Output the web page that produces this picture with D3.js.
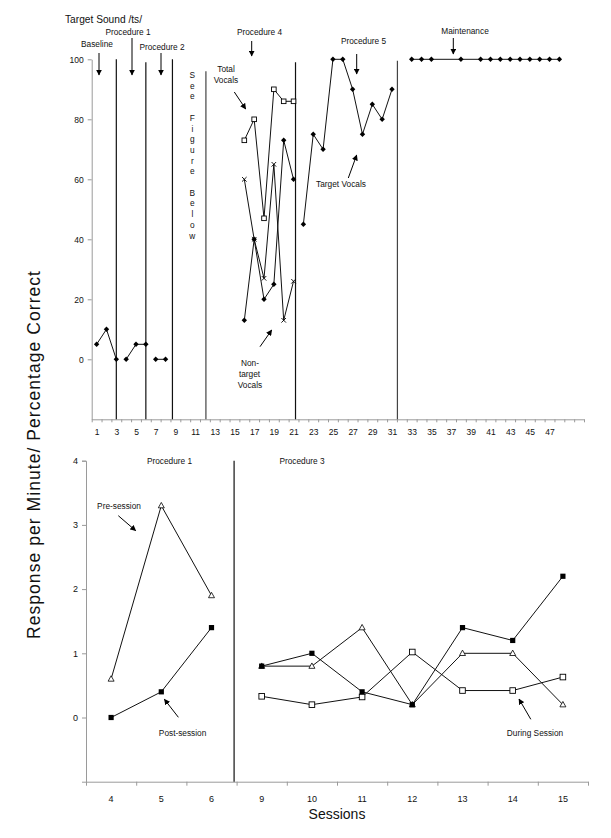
<!DOCTYPE html>
<html>
<head>
<meta charset="utf-8">
<script src="https://cdn.jsdelivr.net/npm/d3@7"></script>
<style>
  body { margin: 0; background: #fff; }
  svg { font-family: "Liberation Sans", Arial, sans-serif; }
  .axis path, .axis line { stroke: #9a9a9a; }
  .axis text { fill: #111; }
</style>
</head>
<body>
<div id="chart"></div>
<script>
// ---- top panel: target sound /ts/ ----
var baselineSessions = [1, 2, 3],
    baselineValues = [5, 10, 0];
var proc1Sessions = [4, 5, 6],
    proc1Values = [0, 5, 5];
var proc2Sessions = [7, 8],
    proc2Values = [0, 0];
var proc4Sessions = [16, 17, 18, 19, 20, 21],
    proc4Total = [73, 80, 47, 90, 86, 86],
    proc4Target = [13, 40, 20, 25, 73, 60],
    proc4NonTarget = [60, 40, 27, 65, 13, 26];
var proc5Sessions = [22, 23, 24, 25, 26, 27, 28, 29, 30, 31],
    proc5Target = [45, 75, 70, 100, 100, 90, 75, 85, 80, 90];
var maintSessions = [33, 34, 35, 38, 40, 41, 42, 43, 44, 45, 46, 47, 48],
    maintValues = [100, 100, 100, 100, 100, 100, 100, 100, 100, 100, 100, 100, 100];
var topPhaseLines = [3, 6, 8.7, 12.1, 21.2, 31.55],
    topPhaseTops = [100, 99, 100, 96, 99, 99.5];
var topYTicks = [0, 20, 40, 60, 80, 100];
var topXLabels = [1, 3, 5, 7, 9, 11, 13, 15, 17, 19, 21, 23, 25, 27, 29, 31, 33, 35, 37, 39, 41, 43, 45, 47];

// ---- bottom panel ----
var bottomSessions = ["4", "5", "6", "9", "10", "11", "12", "13", "14", "15"];
var preSession = [0.6, 3.3, 1.9, 0.8, 0.8, 1.4, 0.2, 1.0, 1.0, 0.2];
var postSession = [0, 0.4, 1.4, 0.8, 1.0, 0.4, 0.2, 1.4, 1.2, 2.2];
var duringSession = [null, null, null, 0.33, 0.2, 0.32, 1.02, 0.42, 0.42, 0.63];
var bottomYTicks = [0, 1, 2, 3, 4];
var bottomPhaseLine = 2.45;

var width = 611,
    height = 838;

var svg = d3.select("#chart")
    .append("svg")
    .attr("width", width)
    .attr("height", height);

svg.append("defs")
    .append("marker")
    .attr("id", "head")
    .attr("viewBox", "0 0 10 10")
    .attr("refX", 9)
    .attr("refY", 5)
    .attr("markerWidth", 6)
    .attr("markerHeight", 6)
    .attr("markerUnits", "userSpaceOnUse")
    .attr("orient", "auto")
    .append("path")
    .attr("d", "M0,0L10,5L0,10z")
    .attr("fill", "#000");

function arrow(x1, y1, x2, y2) {
    svg.append("line")
        .attr("x1", x1).attr("y1", y1)
        .attr("x2", x2).attr("y2", y2)
        .attr("stroke", "#000")
        .attr("stroke-width", 1)
        .attr("marker-end", "url(#head)");
}

function label(txt, x, y, size, anchor) {
    return svg.append("text")
        .attr("x", x)
        .attr("y", y)
        .attr("font-size", size)
        .attr("text-anchor", anchor || "middle")
        .attr("fill", "#111")
        .text(txt);
}

// ================= TOP PANEL =================
var xT = d3.scaleLinear().domain([0.5, 50.5]).range([91.7, 584]);
var yT = d3.scaleLinear().domain([-20, 100]).range([419.3, 59.3]);

// y axis
var yAxisT = svg.append("g")
    .attr("class", "axis")
    .attr("transform", "translate(91.7,0)")
    .call(d3.axisLeft(yT).tickValues(topYTicks).tickSize(4).tickPadding(4).tickSizeOuter(0));
yAxisT.selectAll("text").attr("font-size", 8.5).attr("font-family", "Liberation Sans, Arial");

// x axis: ticks at session boundaries, labels at odd sessions
var boundaries = d3.range(0.5, 51, 1);
svg.append("g")
    .attr("class", "axis")
    .attr("transform", "translate(0,419.3)")
    .call(d3.axisBottom(xT).tickValues(boundaries).tickSize(3).tickSizeOuter(0).tickFormat(""));
var xLabT = svg.append("g")
    .attr("class", "axis")
    .attr("transform", "translate(0,419.3)")
    .call(d3.axisBottom(xT).tickValues(topXLabels).tickSize(0).tickPadding(10));
xLabT.select(".domain").remove();
xLabT.selectAll("text").attr("font-size", 8.5).attr("font-family", "Liberation Sans, Arial");

// phase lines
svg.selectAll(".phaseT")
    .data(topPhaseLines)
    .enter()
    .append("line")
    .attr("class", "phaseT")
    .attr("x1", function (d) { return xT(d); })
    .attr("x2", function (d) { return xT(d); })
    .attr("y1", function (d, i) { return yT(topPhaseTops[i]); })
    .attr("y2", yT(-20))
    .attr("stroke", function (d, i) { return (i === 3 || i === 5) ? "#444" : "#111"; })
    .attr("stroke-width", 1.2);

var lineT = d3.line()
    .x(function (d) { return xT(d[0]); })
    .y(function (d) { return yT(d[1]); });

function topSeries(sessions, values, marker) {
    var pts = sessions.map(function (s, i) { return [s, values[i]]; });
    svg.append("path")
        .datum(pts)
        .attr("d", lineT)
        .attr("fill", "none")
        .attr("stroke", "#111")
        .attr("stroke-width", 1);
    var g = svg.append("g");
    pts.forEach(function (p) {
        var cx = xT(p[0]), cy = yT(p[1]);
        if (marker === "diamond") {
            g.append("path")
                .attr("d", "M" + cx + "," + (cy - 2.7) + "L" + (cx + 2.7) + "," + cy + "L" + cx + "," + (cy + 2.7) + "L" + (cx - 2.7) + "," + cy + "Z")
                .attr("fill", "#000");
        } else if (marker === "square") {
            g.append("rect")
                .attr("x", cx - 2.3).attr("y", cy - 2.3)
                .attr("width", 4.6).attr("height", 4.6)
                .attr("fill", "#fff").attr("stroke", "#000").attr("stroke-width", 0.9);
        } else if (marker === "x") {
            g.append("path")
                .attr("d", "M" + (cx - 2.3) + "," + (cy - 2.3) + "L" + (cx + 2.3) + "," + (cy + 2.3) +
                    "M" + (cx + 2.3) + "," + (cy - 2.3) + "L" + (cx - 2.3) + "," + (cy + 2.3))
                .attr("stroke", "#000").attr("stroke-width", 0.9);
        }
    });
}

topSeries(baselineSessions, baselineValues, "diamond");
topSeries(proc1Sessions, proc1Values, "diamond");
topSeries(proc2Sessions, proc2Values, "diamond");
topSeries(proc4Sessions, proc4NonTarget, "x");
topSeries(proc4Sessions, proc4Target, "diamond");
topSeries(proc4Sessions, proc4Total, "square");
topSeries(proc5Sessions, proc5Target, "diamond");
topSeries(maintSessions, maintValues, "diamond");

// top annotations
label("Target Sound /ts/", 65, 23, 10.2, "start");
label("Baseline", 97, 47, 8.3);
arrow(99, 53, 99, 75);
label("Procedure 1", 128, 35, 8.3);
arrow(132, 38, 132, 75);
label("Procedure 2", 162, 50, 8.3);
arrow(161, 53, 161, 75);

var seeLetters = ["S", "e", "e", "", "F", "i", "g", "u", "r", "e", "", "B", "e", "l", "o", "w"];
svg.append("g")
    .selectAll("text")
    .data(seeLetters)
    .enter()
    .append("text")
    .attr("x", 192.3)
    .attr("y", function (d, i) { return 78 + i * 10.7; })
    .attr("text-anchor", "middle")
    .attr("font-size", 8.3)
    .attr("fill", "#111")
    .text(function (d) { return d; });

label("Procedure 4", 259.5, 35, 8.3);
arrow(251.7, 41, 251.7, 56);
label("Total", 226, 72, 8.3);
label("Vocals", 226, 83, 8.3);
arrow(234.3, 92, 245.7, 109);

label("Procedure 5", 363.5, 44, 8.3);
arrow(356.7, 54, 356.7, 74);
label("Target Vocals", 341, 187, 8.3);
arrow(348.3, 178, 356.7, 155);

label("Non-", 250, 366, 8.3);
label("target", 249.5, 377, 8.3);
label("Vocals", 250, 388, 8.3);
arrow(260, 346.7, 271.7, 330);

label("Maintenance", 465, 34, 8.3);
arrow(453.3, 38, 453.3, 54);

// ================= BOTTOM PANEL =================
var xBi = d3.scaleLinear().domain([-0.5, 9.5]).range([86, 588]);
var xB = d3.scaleBand().domain(bottomSessions).range([86, 588]);
var yB = d3.scaleLinear().domain([-1, 4]).range([781.7, 460.7]);

var yAxisB = svg.append("g")
    .attr("class", "axis")
    .attr("transform", "translate(86,0)")
    .call(d3.axisLeft(yB).tickValues(bottomYTicks).tickFormat(d3.format("d")).tickSize(4).tickPadding(4).tickSizeOuter(4));
yAxisB.selectAll("text").attr("font-size", 9).attr("font-family", "Liberation Sans, Arial");

svg.append("g")
    .attr("class", "axis")
    .attr("transform", "translate(0,781.7)")
    .call(d3.axisBottom(xBi).tickValues(d3.range(-0.5, 10, 1)).tickSize(4).tickSizeOuter(0).tickFormat(""));
var xLabB = svg.append("g")
    .attr("class", "axis")
    .attr("transform", "translate(0,781.7)")
    .call(d3.axisBottom(xB).tickSize(0).tickPadding(14));
xLabB.select(".domain").remove();
xLabB.selectAll("text").attr("font-size", 9).attr("font-family", "Liberation Sans, Arial");

svg.append("line")
    .attr("x1", xBi(bottomPhaseLine)).attr("x2", xBi(bottomPhaseLine))
    .attr("y1", yB(4)).attr("y2", yB(-1))
    .attr("stroke", "#111")
    .attr("stroke-width", 1.2);

var lineB = d3.line()
    .defined(function (d) { return d[1] !== null; })
    .x(function (d) { return xBi(d[0]); })
    .y(function (d) { return yB(d[1]); });

function bottomSeries(values, marker) {
    var segs = [[0, 3], [3, 10]];
    segs.forEach(function (s) {
        var pts = [];
        for (var i = s[0]; i < s[1]; i++) pts.push([i, values[i]]);
        svg.append("path")
            .datum(pts)
            .attr("d", lineB)
            .attr("fill", "none")
            .attr("stroke", "#111")
            .attr("stroke-width", 1);
    });
    values.forEach(function (v, i) {
        if (v === null) return;
        var cx = xBi(i), cy = yB(v);
        if (marker === "triangle") {
            svg.append("path")
                .attr("d", "M" + cx + "," + (cy - 3.2) + "L" + (cx + 3) + "," + (cy + 2.2) + "L" + (cx - 3) + "," + (cy + 2.2) + "Z")
                .attr("fill", "#fff").attr("stroke", "#000").attr("stroke-width", 0.8);
        } else if (marker === "filled") {
            svg.append("rect")
                .attr("x", cx - 2.6).attr("y", cy - 2.6)
                .attr("width", 5.2).attr("height", 5.2)
                .attr("fill", "#000");
        } else {
            svg.append("rect")
                .attr("x", cx - 2.8).attr("y", cy - 2.8)
                .attr("width", 5.6).attr("height", 5.6)
                .attr("fill", "#fff").attr("stroke", "#000").attr("stroke-width", 0.9);
        }
    });
}

bottomSeries(duringSession, "open");
bottomSeries(preSession, "triangle");
bottomSeries(postSession, "filled");

label("Procedure 1", 169.5, 464, 8.3);
label("Procedure 3", 302, 464, 8.3);
label("Pre-session", 119, 509, 8.3);
arrow(118.3, 515.7, 135.7, 530.7);
label("Post-session", 182.6, 736, 8.3);
arrow(178.4, 717.3, 164.4, 699.3);
label("During Session", 535, 736, 8.3);
arrow(530.8, 719.3, 519, 699);

// axis titles
label("Sessions", 337, 819, 14);
svg.append("text")
    .attr("transform", "translate(40,455) rotate(-90)")
    .attr("text-anchor", "middle")
    .attr("font-size", 17.5)
    .attr("textLength", 368)
    .attr("lengthAdjust", "spacing")
    .attr("fill", "#111")
    .text("Response per Minute/ Percentage Correct");
</script>
</body>
</html>
